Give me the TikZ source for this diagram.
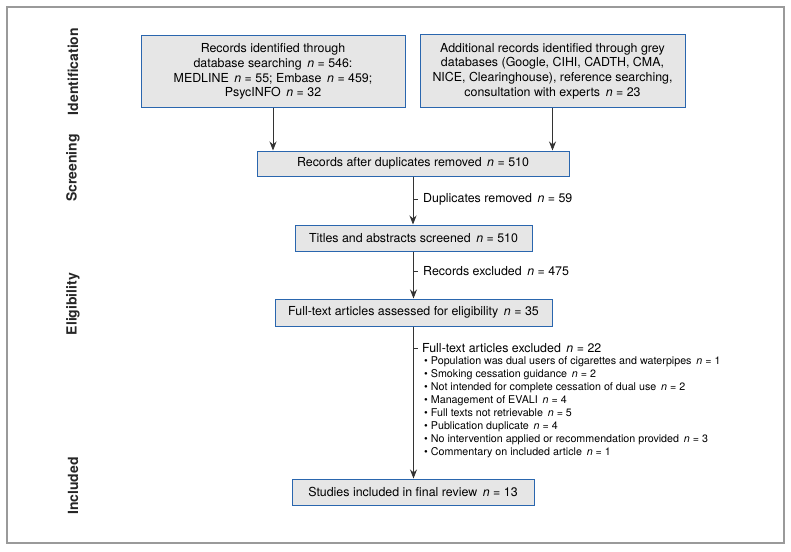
\documentclass[tikz,border=0pt]{standalone}
\usepackage{fontspec}
\setmainfont{TeX Gyre Heros}
\usepackage{tikz}
\usetikzlibrary{arrows.meta}

\definecolor{boxblue}{HTML}{2A66AE}
\definecolor{boxgrey}{HTML}{E6E6E6}
\definecolor{framegrey}{HTML}{9A9A9A}
\definecolor{linegrey}{HTML}{333333}
\newcommand{\nv}[1]{\hspace{0.45em}\textit{n}~=~#1}

\begin{document}
\begin{tikzpicture}[x=1pt,y=-1pt,
    flowbox/.style={draw=boxblue, fill=boxgrey, line width=1pt, align=center, inner sep=2pt,
      font=\fontsize{12.4}{14.7}\selectfont},
    stage/.style={rotate=90, font=\fontsize{14}{16}\selectfont\bfseries, text=black!85},
    flow/.style={draw=linegrey, line width=0.8pt, -{Stealth[length=9pt,width=7pt]}},
    note/.style={anchor=west, inner sep=0pt, font=\fontsize{12.4}{14.7}\selectfont}]
             \useasboundingbox (0,0) rectangle (791,551);
             \draw[framegrey, line width=1.6pt] (7,7) rectangle (784,543);
             % stage labels
             \node[stage] (sid) at (73,71.5) {Identification};
             \node[stage] (ssc) at (73,168) {Screening};
             \node[stage] (sel) at (73,304) {Eligibility};
             \node[stage] (sin) at (73,486) {Included};
             % boxes
             \node[flowbox, minimum width=264pt, minimum height=71pt] (b1) at (273,71.5)
               {Records identified through\\database searching\nv{546}:\\MEDLINE\nv{55}; Embase\nv{459};\\PsycINFO\nv{32}};
             \node[flowbox, minimum width=265pt, minimum height=72pt] (b2) at (552.5,71)
               {Additional records identified through grey\\databases (Google, CIHI, CADTH, CMA,\\NICE, Clearinghouse), reference searching,\\consultation with experts\nv{23}};
             \node[flowbox, minimum width=312pt, minimum height=25pt] (b3) at (413,163.5)
               {Records after duplicates removed\nv{510}};
             \node[flowbox, minimum width=237pt, minimum height=26pt] (b4) at (413.5,238)
               {Titles and abstracts screened\nv{510}};
             \node[flowbox, minimum width=277pt, minimum height=27pt] (b5) at (413.5,312.5)
               {Full-text articles assessed for eligibility\nv{35}};
             \node[flowbox, minimum width=242pt, minimum height=26pt] (b6) at (413,492)
               {Studies included in final review\nv{13}};
             % arrows
             \draw[flow] (b1.south) -- (b1.south |- b3.north);
             \draw[flow] (b2.south) -- (b2.south |- b3.north);
             \draw[flow] (b3.south) -- (b3.south |- b4.north);
             \draw[flow] (b4.south) -- (b4.south |- b5.north);
             \draw[flow] (b5.south) -- (b5.south |- b6.north);
             % side notes
             \coordinate (t1) at (413,199);
             \coordinate (t2) at (413,271);
             \coordinate (t3) at (413,348);
             \node[note] (n1) at (423,199) {Duplicates removed\nv{59}};
             \node[note] (n2) at (423,271) {Records excluded\nv{475}};
             \node[note] (n3) at (422,348) {Full-text articles excluded\nv{22}};
             \draw[linegrey, line width=0.6pt] (t1) -- ++(5,0);
             \draw[linegrey, line width=0.6pt] (t2) -- ++(5,0);
             \draw[linegrey, line width=0.6pt] (t3) -- ++(5,0);
             \node[anchor=north west, inner sep=0pt, align=left, font=\fontsize{10.7}{13}\selectfont] (n4) at (424,356)
               {\textbullet\ Population was dual users of cigarettes and waterpipes\nv{1}\\
                \textbullet\ Smoking cessation guidance\nv{2}\\
                \textbullet\ Not intended for complete cessation of dual use\nv{2}\\
                \textbullet\ Management of EVALI\nv{4}\\
                \textbullet\ Full texts not retrievable\nv{5}\\
                \textbullet\ Publication duplicate\nv{4}\\
                \textbullet\ No intervention applied or recommendation provided\nv{3}\\
                \textbullet\ Commentary on included article\nv{1}};
            \end{tikzpicture}
\end{document}
